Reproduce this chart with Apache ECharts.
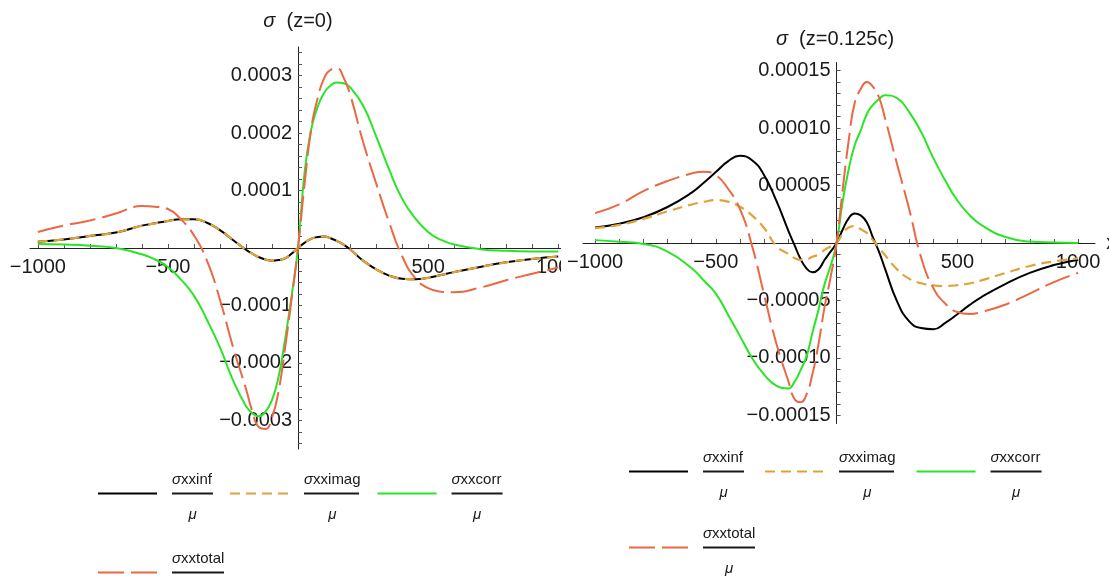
<!DOCTYPE html>
<html>
<head>
<meta charset="utf-8">
<script src="https://cdn.jsdelivr.net/npm/echarts@6/dist/echarts.min.js"></script>
<style>
  html, body { margin: 0; padding: 0; background: #fff; }
  #wrap { position: relative; width: 1109px; height: 579px; overflow: hidden; }
  #left { position: absolute; left: 0; top: 0; width: 561px; height: 579px; }
  #right { position: absolute; left: 561px; top: 0; width: 548px; height: 579px; }
</style>
</head>
<body>
<div id="wrap">
  <div id="left"></div>
  <div id="right"></div>
</div>
<script>
// sample positions along x (same for both panels)
const xs = [-1000, -900, -800, -700, -600, -550, -500, -450, -400, -350, -300, -250, -200, -175, -150, -125, -100, -75, -50, -25,
  0, 25, 50, 75, 100, 125, 150, 175, 200, 250, 300, 350, 400, 450, 500, 550, 600, 700, 800, 900, 1000]

// z = 0, values in units of 1e-4
const infZ0 = [0.11, 0.15, 0.21, 0.27, 0.39, 0.43, 0.47, 0.5, 0.5, 0.44, 0.31, 0.14, -0.03, -0.1, -0.16, -0.2, -0.22, -0.21, -0.18, -0.1,
  0, 0.09, 0.16, 0.19, 0.2, 0.17, 0.12, 0.06, -0.02, -0.22, -0.37, -0.48, -0.535, -0.545, -0.52, -0.47, -0.42, -0.33, -0.25, -0.19, -0.15]
const imagZ0 = [0.11, 0.15, 0.21, 0.27, 0.39, 0.43, 0.47, 0.5, 0.5, 0.44, 0.31, 0.14, -0.03, -0.1, -0.16, -0.2, -0.22, -0.21, -0.18, -0.1,
  0, 0.09, 0.16, 0.19, 0.2, 0.17, 0.12, 0.06, -0.02, -0.22, -0.37, -0.48, -0.535, -0.545, -0.52, -0.47, -0.42, -0.33, -0.25, -0.19, -0.15]
const corrZ0 = [0.07, 0.06, 0.04, 0, -0.11, -0.2, -0.33, -0.55, -0.83, -1.25, -1.73, -2.3, -2.75, -2.88, -2.93, -2.85, -2.65, -2.25, -1.6, -0.85,
  0, 1.3, 2.05, 2.45, 2.7, 2.83, 2.88, 2.87, 2.8, 2.48, 1.95, 1.37, 0.86, 0.52, 0.28, 0.14, 0.06, -0.02, -0.05, -0.06, -0.06]
const totalZ0 = [0.28, 0.39, 0.48, 0.6, 0.73, 0.72, 0.68, 0.5, 0.22, -0.22, -0.9, -1.72, -2.45, -2.85, -3.12, -3.15, -2.95, -2.5, -1.75, -0.9,
  0, 1.1, 2.05, 2.6, 2.95, 3.1, 3.13, 2.97, 2.68, 1.85, 1.13, 0.45, -0.14, -0.52, -0.7, -0.76, -0.77, -0.69, -0.56, -0.45, -0.34]

// z = 0.125c, values in units of 1e-5
const infZc = [1.35, 1.68, 2.24, 3.13, 4.38, 5.24, 6.17, 7.1, 7.58, 7.2, 5.9, 3.7, 1.08, -0.15, -1.35, -2.2, -2.55, -2.3, -1.48, -0.75,
  0, 1.15, 2.15, 2.57, 2.4, 1.8, 0.5, -0.73, -2.2, -5.05, -6.8, -7.4, -7.5, -6.95, -6.2, -5.4, -4.7, -3.55, -2.6, -1.92, -1.45]
const imagZc = [1.3, 1.58, 2.1, 2.75, 3.35, 3.58, 3.73, 3.6, 3.15, 2.4, 1.3, -0.25, -0.95, -1.3, -1.47, -1.43, -1.2, -1.0, -0.6, -0.3,
  0, 0.8, 1.35, 1.47, 1.2, 0.88, 0.27, -0.37, -1.05, -2.28, -3.1, -3.5, -3.68, -3.74, -3.67, -3.52, -3.25, -2.6, -2.0, -1.6, -1.33]
const corrZc = [0.25, 0.1, -0.08, -0.75, -2.2, -3.26, -4.4, -6.22, -8.1, -10.0, -11.45, -12.4, -12.65, -12.1, -11.1, -9.9, -7.8, -5.8, -3.6, -2.0,
  0, 3.6, 6.4, 8.5, 9.8, 11.2, 12.0, 12.5, 12.85, 12.6, 11.4, 9.65, 7.4, 5.43, 3.7, 2.44, 1.55, 0.52, 0.13, 0.04, 0]
const totalZc = [2.6, 3.36, 4.52, 5.39, 6.05, 6.2, 5.9, 4.74, 2.94, -0.25, -4.5, -8.7, -12.0, -13.55, -13.85, -13.2, -11.4, -8.8, -5.6, -3.0,
  0, 4.6, 8.9, 12.2, 13.4, 14.0, 13.6, 12.7, 10.9, 6.9, 3.0, -1.25, -3.9, -5.27, -6.0, -6.17, -6.0, -5.35, -4.4, -3.4, -2.6]

// axis labels
const xTickLabels = [-1000, -500, 500, 1000]
const yTickLabelsZ0 = [-0.0003, -0.0002, -0.0001, 0.0001, 0.0002, 0.0003]
const yTickLabelsZc = [-0.00015, -0.0001, -0.00005, 0.00005, 0.0001, 0.00015]

const seriesNames = ['σxxinf', 'σxximag', 'σxxcorr', 'σxxtotal']

const FONT = '"Liberation Sans", Arial, sans-serif'
const INK = '#1a1a1a'
const colors = ['#000000', '#e0a23a', '#2be428', '#ea6843']
const dashes = ['solid', [10, 6], 'solid', [26, 7]]
const widths = [2, 2.2, 2, 2]
const fracWidths = [41, 55, 51, 52]

function stepValues(from, to, step) {
  const out = []
  for (let k = Math.round(from / step); k * step <= to + step * 1e-6; k++) {
    if (k !== 0) {
      out.push(+(k * step).toPrecision(8))
    }
  }
  return out
}

function legendRich() {
  const rich = {
    pad: { fontSize: 1, lineHeight: 14 },
    sp: { width: 10, fontSize: 1, lineHeight: 1 },
    s: { fontFamily: FONT, fontSize: 15, fontStyle: 'italic', lineHeight: 26, color: INK },
    n: { fontFamily: FONT, fontSize: 15, lineHeight: 26, color: INK },
  }
  fracWidths.forEach((w, i) => {
    rich['b' + i] = { width: w, height: 1.8, lineHeight: 2, fontSize: 1, backgroundColor: INK }
    rich['m' + i] = { width: w, align: 'center', fontFamily: FONT, fontSize: 15, fontStyle: 'italic', lineHeight: 40, color: INK }
  })
  return rich
}

function legendLabel(name) {
  const i = seriesNames.indexOf(name)
  return '{pad| }\n{sp| }{s|σ}{n|' + name.slice(1) + '}\n{sp| }{b' + i + '| }\n{sp| }{m' + i + '|μ}'
}

function minusFmt(v, digits) {
  return (v < 0 ? '\u2212' : '') + Math.abs(v).toFixed(digits)
}

function buildOption(cfg) {
  const valueSets = cfg.values
  const rich = legendRich()
  const g = cfg.grid
  // axes cross at the origin: shift each axis from the grid edge to zero
  const xAxisOffset = -g.height * (0 - -cfg.yLim) / (2 * cfg.yLim)
  const yAxisOffset = -g.width * (0 - cfg.xMin) / (cfg.xMax - cfg.xMin)
  const legendBase = {
    orient: 'horizontal',
    itemWidth: 59,
    itemHeight: 14,
    padding: 0,
    selectedMode: false,
    itemStyle: { opacity: 0, borderWidth: 0 },
    formatter: legendLabel,
    textStyle: { rich: rich, fontFamily: FONT },
  }
  return {
    animation: false,
    backgroundColor: '#ffffff',
    textStyle: { fontFamily: FONT },
    graphic: [
      {
        type: 'text',
        x: cfg.titleX,
        y: cfg.titleY,
        style: {
          text: '{s|σ}  ' + cfg.title,
          fill: INK,
          font: '20px ' + FONT,
          align: 'center',
          verticalAlign: 'middle',
          rich: { s: { fontStyle: 'italic', fontSize: 20, fontFamily: FONT, fill: INK } },
        },
      },
    ],
    grid: Object.assign({ outerBoundsMode: 'none', containLabel: false }, g),
    xAxis: {
      type: 'value',
      min: cfg.xMin,
      max: cfg.xMax,
      offset: xAxisOffset,
      name: cfg.xName,
      nameLocation: 'end',
      nameGap: 6,
      nameTextStyle: { fontSize: 20, color: INK, fontFamily: FONT },
      axisLine: { onZero: false, lineStyle: { color: '#222', width: 1 } },
      axisTick: { inside: true, length: 4, customValues: stepValues(-1000, 1000, 100), lineStyle: { color: '#555' } },
      splitLine: { show: false },
      axisLabel: {
        customValues: xTickLabels,
        formatter: (v) => minusFmt(v, 0),
        fontSize: 20,
        color: INK,
        margin: 9,
        fontFamily: FONT,
      },
    },
    yAxis: {
      type: 'value',
      min: -cfg.yLim,
      max: cfg.yLim,
      offset: yAxisOffset,
      axisLine: { onZero: false, lineStyle: { color: '#222', width: 1 } },
      axisTick: { inside: true, length: 4, customValues: stepValues(-cfg.yLim, cfg.yLim, cfg.yMinor), lineStyle: { color: '#555' } },
      splitLine: { show: false },
      axisLabel: {
        customValues: cfg.yLabels,
        formatter: (v) => minusFmt(v, cfg.digits),
        fontSize: 20,
        color: INK,
        margin: 6,
        fontFamily: FONT,
      },
    },
    legend: [
      Object.assign({}, legendBase, { data: seriesNames.slice(0, 3), left: cfg.legendLeft, top: cfg.legendTop[0], itemGap: cfg.legendGap }),
      Object.assign({}, legendBase, { data: seriesNames.slice(3), left: cfg.legendLeft, top: cfg.legendTop[1] }),
    ],
    series: seriesNames.map((name, i) => ({
      name: name,
      type: 'line',
      smooth: 0.5,
      symbol: 'none',
      showSymbol: false,
      silent: true,
      lineStyle: { color: colors[i], width: widths[i], type: dashes[i] },
      itemStyle: { color: colors[i] },
      data: xs.map((x, k) => [x, valueSets[i][k] * cfg.unit]),
    })),
  }
}

const leftChart = echarts.init(document.getElementById('left'))
leftChart.setOption(buildOption({
  title: '(z=0)',
  titleX: 298,
  titleY: 21,
  grid: { left: 30, top: 47, width: 536, height: 402 },
  xMin: -1030,
  xMax: 1030,
  xName: '',
  yLim: 0.00035,
  yMinor: 0.00002,
  yLabels: yTickLabelsZ0,
  digits: 4,
  unit: 1e-4,
  values: [infZ0, imagZ0, corrZ0, totalZ0],
  legendLeft: 97,
  legendTop: [459, 538],
  legendGap: 16,
}))

const rightChart = echarts.init(document.getElementById('right'))
rightChart.setOption(buildOption({
  title: '(z=0.125c)',
  titleX: 274,
  titleY: 39,
  grid: { left: 22, top: 62.5, width: 512, height: 361 },
  xMin: -1050,
  xMax: 1070,
  xName: 'x',
  yLim: 0.000157,
  yMinor: 0.00001,
  yLabels: yTickLabelsZc,
  digits: 5,
  unit: 1e-5,
  values: [infZc, imagZc, corrZc, totalZc],
  legendLeft: 67,
  legendTop: [437, 513],
  legendGap: 20,
}))
</script>
</body>
</html>
